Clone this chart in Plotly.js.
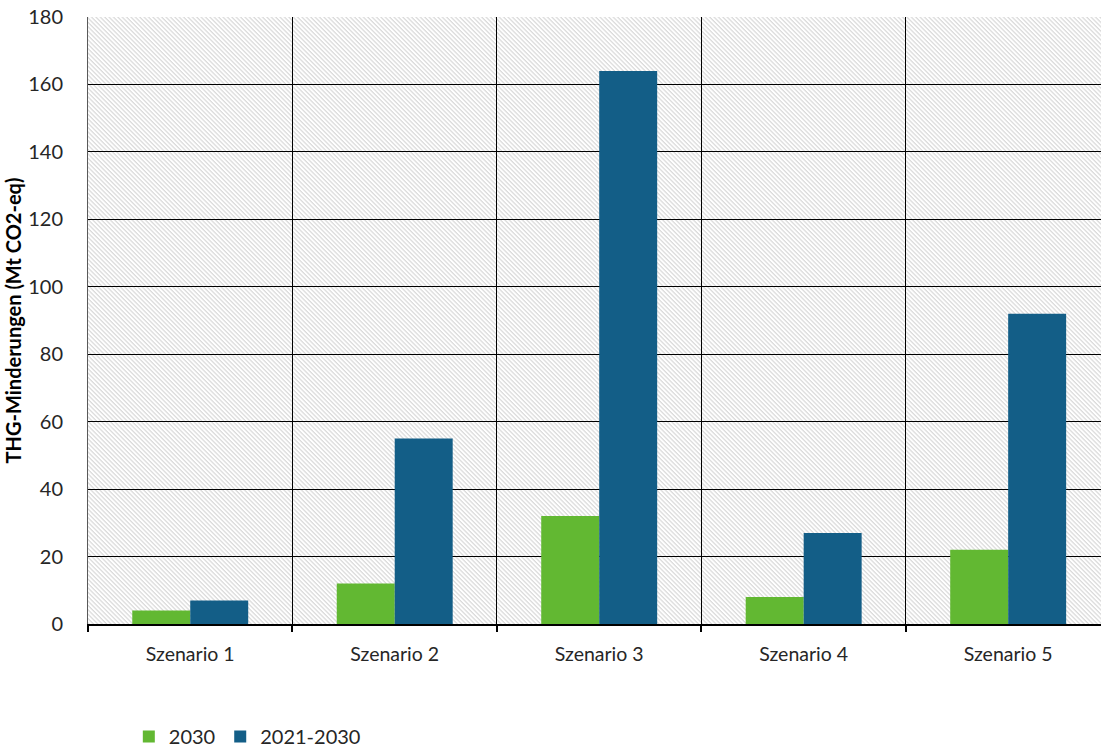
<!DOCTYPE html>
<html>
<head>
<meta charset="utf-8">
<script src="https://cdn.plot.ly/plotly-3.0.1.min.js"></script>
<style>
  html, body { margin: 0; padding: 0; background: #ffffff; }
  #chart { width: 1101px; height: 756px; }
</style>
</head>
<body>
<div id="chart"></div>
<script>
// THG-Minderungen je Szenario (Mt CO2-eq)
const categories = ['Szenario 1', 'Szenario 2', 'Szenario 3', 'Szenario 4', 'Szenario 5'];
const reduction2030 = [4, 12, 32, 8, 22];
const reduction2021to2030 = [7, 55, 164, 27, 92];
const seriesNames = ['2030', '2021-2030'];

const greenColor = '#62b832';
const blueColor = '#135e87';

// Diagonal hatch used as plot background
const hatchSvg =
  '<svg xmlns="http://www.w3.org/2000/svg" width="1013" height="607" viewBox="0 0 1013 607" preserveAspectRatio="none">' +
  '<defs><pattern id="h" width="3.1" height="3.1" patternUnits="userSpaceOnUse" patternTransform="rotate(45)">' +
  '<rect x="0" y="0" width="3.1" height="1.25" fill="#dadada"/></pattern></defs>' +
  '<rect width="1013" height="607" fill="#ffffff"/>' +
  '<rect width="1013" height="607" fill="url(#h)"/></svg>';
const hatchUri = 'data:image/svg+xml;base64,' + btoa(hatchSvg);

const font = 'Lato, "Open Sans", sans-serif';

const traces = [
  {
    type: 'bar',
    name: seriesNames[0],
    x: categories,
    y: reduction2030,
    marker: { color: greenColor, line: { width: 0 } },
    hoverinfo: 'x+y+name'
  },
  {
    type: 'bar',
    name: seriesNames[1],
    x: categories,
    y: reduction2021to2030,
    marker: { color: blueColor, line: { width: 0 } },
    hoverinfo: 'x+y+name'
  }
];

const layout = {
  width: 1101,
  height: 756,
  margin: { l: 88, r: 0, t: 17, b: 132, pad: 0 },
  paper_bgcolor: '#ffffff',
  plot_bgcolor: '#ffffff',
  barmode: 'group',
  bargap: 0.433,
  bargroupgap: 0,
  font: { family: font, color: '#262626' },
  images: [{
    source: hatchUri,
    xref: 'paper', yref: 'paper',
    x: 0, y: 1, sizex: 1, sizey: 1,
    xanchor: 'left', yanchor: 'top',
    sizing: 'stretch',
    layer: 'below'
  }],
  xaxis: {
    type: 'category',
    range: [-0.5, 4.454],
    tickson: 'boundaries',
    ticks: 'outside',
    ticklen: 6,
    tickwidth: 2,
    tickcolor: '#000000',
    showgrid: true,
    gridcolor: '#000000',
    gridwidth: 1,
    showline: true,
    linecolor: '#000000',
    linewidth: 2,
    tickfont: { family: font, size: 19.5, color: '#262626' },
    ticklabelstandoff: 12,
    automargin: false,
    fixedrange: true
  },
  yaxis: {
    range: [0, 180],
    dtick: 20,
    tick0: 0,
    ticks: '',
    showgrid: true,
    gridcolor: '#000000',
    gridwidth: 1,
    zeroline: false,
    showline: true,
    linecolor: '#595959',
    linewidth: 1,
    tickfont: { family: font, size: 20, color: '#262626' },
    ticklabelstandoff: 20,
    title: {
      text: 'THG-Minderungen (Mt CO2-eq)',
      font: { family: font, size: 20, color: '#000000', weight: 'bold' },
      standoff: 1
    },
    automargin: true,
    fixedrange: true
  },
  showlegend: true,
  legend: {
    orientation: 'h',
    xref: 'container',
    yref: 'container',
    x: 0.117,
    xanchor: 'left',
    y: 0,
    yanchor: 'bottom',
    font: { family: font, size: 20, color: '#262626' },
    bgcolor: 'rgba(0,0,0,0)',
    itemwidth: 30,
    traceorder: 'normal'
  }
};

Plotly.newPlot('chart', traces, layout, { displayModeBar: false, staticPlot: true });
</script>
</body>
</html>
